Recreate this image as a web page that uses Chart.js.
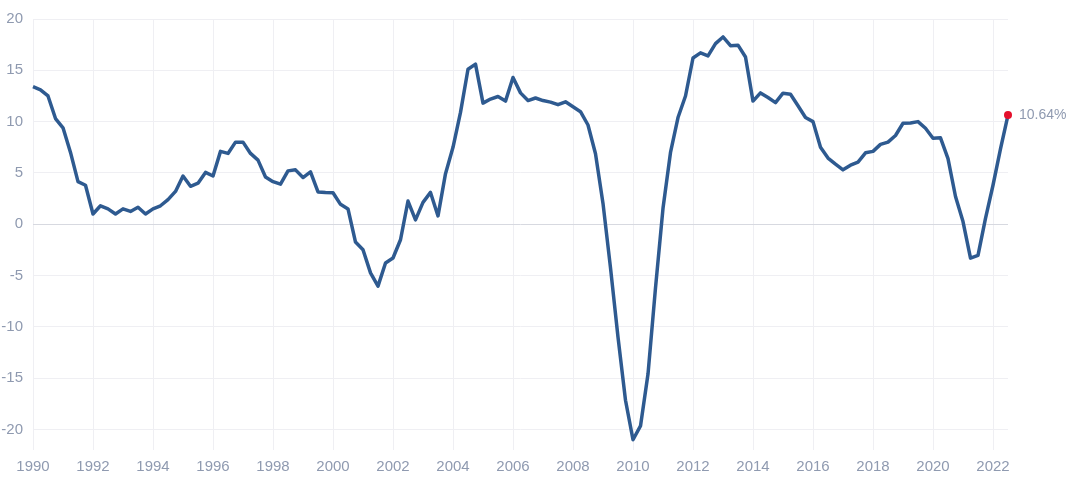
<!DOCTYPE html>
<html>
<head>
<meta charset="utf-8">
<script src="https://cdn.jsdelivr.net/npm/chart.js@4/dist/chart.umd.min.js"></script>
<style>
  html, body { margin: 0; padding: 0; background: #fff; }
  #wrap { width: 1073px; height: 489px; position: relative; }
</style>
</head>
<body>
<div id="wrap"><canvas id="chart"></canvas></div>
<script>
// quarterly series, first value = 1990 Q1
const startYear = 1990;
const values = [
  13.4, 13.1, 12.5, 10.3,
  9.4, 7.0, 4.15, 3.8,
  1.0, 1.8, 1.5, 1.0,
  1.5, 1.25, 1.65, 1.0,
  1.5, 1.8, 2.4, 3.2,
  4.7, 3.7, 4.0, 5.05,
  4.7, 7.1, 6.9, 8.0,
  8.0, 6.9, 6.25, 4.6,
  4.15, 3.9, 5.2, 5.3,
  4.55, 5.1, 3.15, 3.1,
  3.07, 1.94, 1.49, -1.74,
  -2.48, -4.74, -6.03, -3.77,
  -3.29, -1.51, 2.26, 0.42,
  2.13, 3.1, 0.81, 4.93,
  7.5, 10.9, 15.1, 15.6,
  11.8, 12.2, 12.45, 12.0,
  14.3, 12.8, 12.05, 12.3,
  12.05, 11.9, 11.65, 11.93,
  11.45, 10.97, 9.67, 6.87,
  2.03, -4.25, -11.0, -17.15,
  -21.0, -19.65, -14.6, -6.2,
  1.55, 7.0, 10.4, 12.5,
  16.2, 16.7, 16.4, 17.6,
  18.25, 17.4, 17.45, 16.3,
  12.0, 12.8, 12.35, 11.85,
  12.77, 12.67, 11.55, 10.4,
  10.0, 7.5, 6.45, 5.85,
  5.3, 5.75, 6.06, 6.96,
  7.1, 7.78, 8.0, 8.65,
  9.84, 9.87, 10.0, 9.35,
  8.38, 8.42, 6.4, 2.7,
  0.26, -3.3, -3.03, 0.58,
  3.8, 7.35, 10.64
];
const xTicks = [1990, 1992, 1994, 1996, 1998, 2000, 2002, 2004, 2006, 2008, 2010, 2012, 2014, 2016, 2018, 2020, 2022];
const yTicks = [-20, -15, -10, -5, 0, 5, 10, 15, 20];
const lastLabel = "10.64%";

const points = values.map((v, i) => ({ x: startYear + i / 4, y: v }));
const last = points.length - 1;

const tickColor = "#8f9ab0";
const gridColor = "#efeff3";
const fontFamily = "'Liberation Sans', Arial, sans-serif";

const endLabel = {
  id: "endLabel",
  afterDatasetsDraw(chart) {
    const pt = chart.getDatasetMeta(0).data[last];
    const ctx = chart.ctx;
    ctx.save();
    ctx.font = "14px " + fontFamily;
    ctx.fillStyle = tickColor;
    ctx.textAlign = "left";
    ctx.textBaseline = "middle";
    ctx.fillText(lastLabel, pt.x + 11, pt.y);
    ctx.restore();
  }
};

new Chart(document.getElementById("chart"), {
  type: "line",
  data: {
    datasets: [{
      data: points,
      borderColor: "#2e5a90",
      borderWidth: 3.5,
      tension: 0,
      fill: false,
      clip: false,
      pointRadius: ctx => ctx.dataIndex === last ? 4 : 0,
      pointHoverRadius: 0,
      pointBackgroundColor: "#e5102c",
      pointBorderWidth: 0,
      borderJoinStyle: "round"
    }]
  },
  options: {
    responsive: true,
    maintainAspectRatio: false,
    animation: false,
    layout: { padding: { top: 9, right: 65, bottom: 0, left: 0 } },
    plugins: { legend: { display: false }, tooltip: { enabled: false } },
    scales: {
      x: {
        type: "linear",
        min: startYear,
        max: points[last].x,
        afterBuildTicks: scale => {
          scale.ticks = xTicks.map(v => ({ value: v }));
        },
        afterFit: scale => { scale.height = 39; },
        ticks: {
          color: tickColor,
          padding: 8,
          maxRotation: 0,
          autoSkip: false,
          font: { family: fontFamily, size: 15 },
          callback: v => String(v)
        },
        grid: { color: gridColor, drawTicks: false },
        border: { display: false }
      },
      y: {
        min: -22,
        max: 20,
        afterBuildTicks: scale => {
          scale.ticks = yTicks.map(v => ({ value: v }));
        },
        afterFit: scale => { scale.width = 33; },
        ticks: {
          color: tickColor,
          padding: 10,
          font: { family: fontFamily, size: 15 }
        },
        grid: {
          color: c => c.tick && c.tick.value === 0 ? "#d7d9e0" : gridColor,
          drawTicks: false
        },
        border: { display: false }
      }
    }
  },
  plugins: [endLabel]
});
</script>
</body>
</html>
